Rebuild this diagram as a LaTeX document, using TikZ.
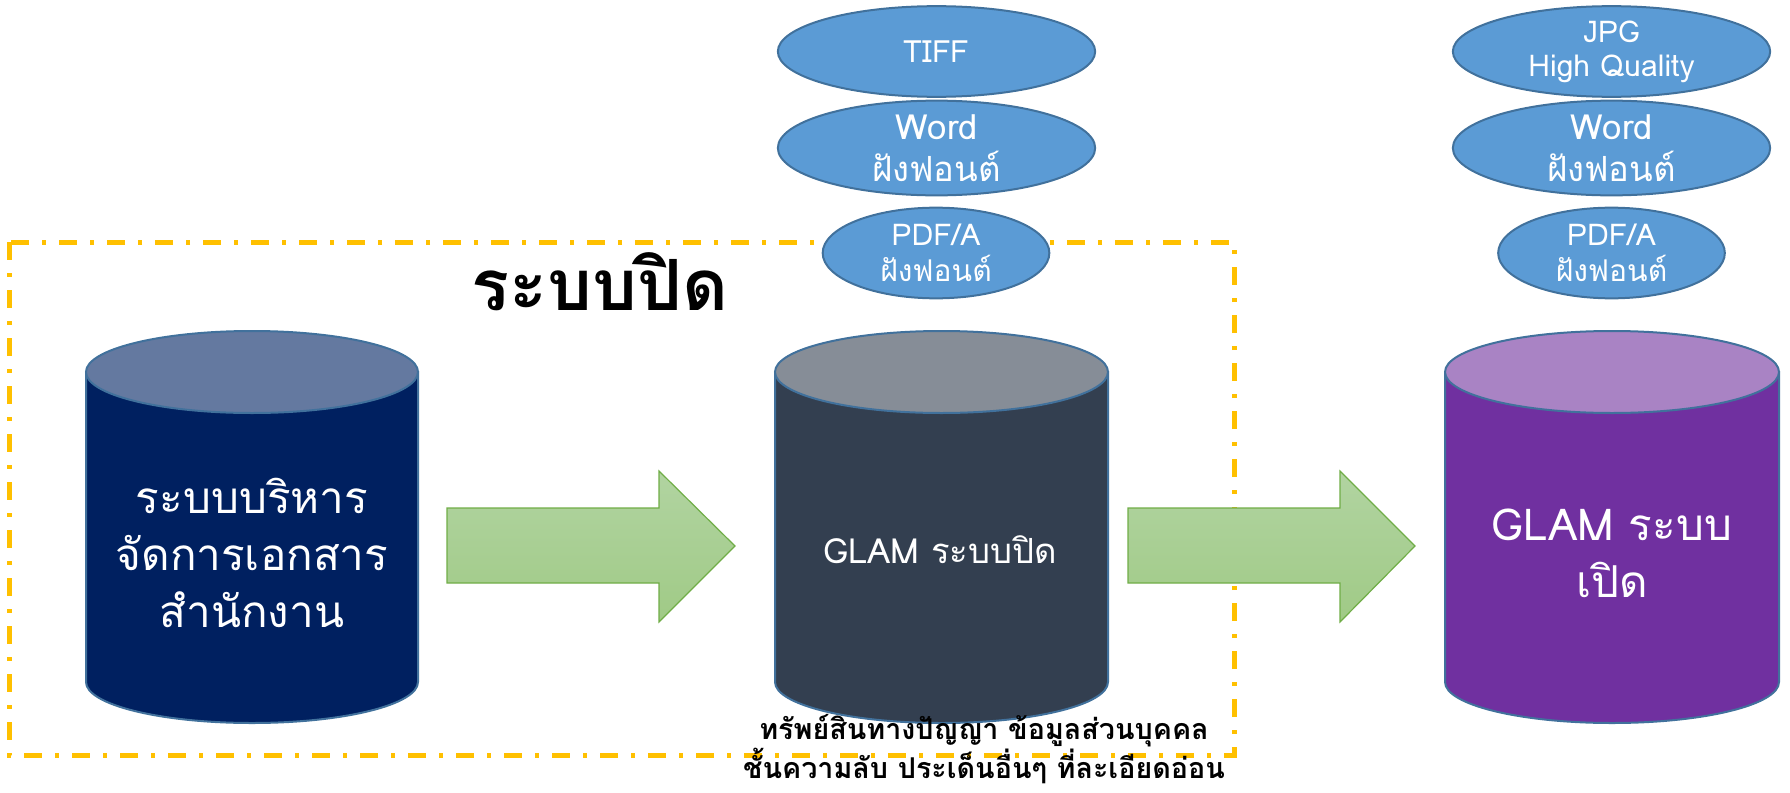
\documentclass[tikz,border=0pt]{standalone}
\usepackage{xcolor}
\usepackage{fontspec}
\setmainfont[Script=Thai]{Loma}
\usepackage{tikz}
\usetikzlibrary{shapes.geometric}

\definecolor{canLine}{HTML}{41719C}
\definecolor{navyBody}{HTML}{002060}
\definecolor{navyTop}{HTML}{6479A0}
\definecolor{slateBody}{HTML}{333F50}
\definecolor{slateTop}{HTML}{868D97}
\definecolor{purpleBody}{HTML}{7030A0}
\definecolor{purpleTop}{HTML}{A983C4}
\definecolor{ovalFill}{HTML}{5B9BD5}
\definecolor{arrowLine}{HTML}{70AD47}
\definecolor{arrowTop}{HTML}{B1D4A1}
\definecolor{arrowBottom}{HTML}{A0CA86}
\definecolor{frameGold}{HTML}{FFC000}

\tikzset{
  oval/.style={ellipse, draw=canLine, line width=1.5pt, fill=ovalFill, text=white, inner sep=0pt, align=center},
  canside/.style={draw=canLine, line width=1.5pt},
  blockarrow/.style={draw=arrowLine, line width=0.9pt, top color=arrowTop, bottom color=arrowBottom},
}

\begin{document}
\begin{tikzpicture}[x=0.75pt,y=0.75pt,yscale=-1,xscale=1]
	\useasboundingbox (0,0) rectangle (1790,792);
	
	%Shape: Rectangle [id:frame] 
	\draw [color=frameGold, line width=3.75pt, dash pattern=on 13.5pt off 9.75pt on 3pt off 9.75pt]  (9,242) rectangle (1234,755) ;
	
	%Right Arrow [id:arrowA] 
	\draw [blockarrow]  (447,508) -- (659,508) -- (659,471) -- (735,546) -- (659,622) -- (659,583) -- (447,583) -- cycle ;
	%Right Arrow [id:arrowB] 
	\draw [blockarrow]  (1128,508) -- (1340,508) -- (1340,471) -- (1415,546) -- (1340,622) -- (1340,583) -- (1128,583) -- cycle ;
	
	%Shape: Can [id:canOffice] 
	\draw [canside, fill=navyBody]  (86,372) -- (86,682) arc [start angle=180, end angle=0, x radius=166, y radius=41] -- (418,372) -- cycle ;
	\draw [canside, fill=navyTop]  (252,372) ellipse [x radius=166, y radius=41] ;
	%Shape: Can [id:canClosed] 
	\draw [canside, fill=slateBody]  (775,372) -- (775,682) arc [start angle=180, end angle=0, x radius=166.5, y radius=41] -- (1108,372) -- cycle ;
	\draw [canside, fill=slateTop]  (941.5,372) ellipse [x radius=166.5, y radius=41] ;
	%Shape: Can [id:canOpen] 
	\draw [canside, fill=purpleBody]  (1445,372) -- (1445,682) arc [start angle=180, end angle=0, x radius=167, y radius=41] -- (1779,372) -- cycle ;
	\draw [canside, fill=purpleTop]  (1612,372) ellipse [x radius=167, y radius=41] ;
	
	%Shape: Ellipse [id:ovalTiff] 
	\node (tiff) [oval, minimum width=238pt, minimum height=68pt, font=\fontsize{23}{28}\selectfont] at (936.5,51.5) {TIFF};
	%Shape: Ellipse [id:ovalWordA] 
	\node (wordA) [oval, minimum width=238pt, minimum height=68pt, font=\fontsize{26}{31.5}\selectfont] at (936.5,148) {Word\\ฝังฟอนต์};
	%Shape: Ellipse [id:ovalPdfA] 
	\node (pdfA) [oval, minimum width=170pt, minimum height=68pt, font=\fontsize{22.5}{27}\selectfont] at (936,253) {PDF/A\\ฝังฟอนต์};
	%Shape: Ellipse [id:ovalJpg] 
	\node (jpg) [oval, minimum width=238pt, minimum height=68pt, font=\fontsize{22.5}{25.5}\selectfont] at (1611.5,51.5) {JPG\\High Quality};
	%Shape: Ellipse [id:ovalWordB] 
	\node (wordB) [oval, minimum width=238pt, minimum height=68pt, font=\fontsize{26}{31.5}\selectfont] at (1611.5,148) {Word\\ฝังฟอนต์};
	%Shape: Ellipse [id:ovalPdfB] 
	\node (pdfB) [oval, minimum width=170pt, minimum height=68pt, font=\fontsize{22.5}{27}\selectfont] at (1611.5,253) {PDF/A\\ฝังฟอนต์};
	
	% Text Node
	\draw (600,282) node (closedTitle) [inner sep=0.75pt, font=\fontsize{53}{60}\selectfont\bfseries]   [align=center] {ระบบปิด};
	% Text Node
	\draw (252,553) node (office) [inner sep=0.75pt, text=white, font=\fontsize{33}{43}\selectfont]   [align=center] {ระบบบริหาร\\จัดการเอกสาร\\สำนักงาน};
	% Text Node
	\draw (940,550) node (glamClosed) [inner sep=0.75pt, text=white, font=\fontsize{26}{32}\selectfont]   [align=center] {GLAM ระบบปิด};
	% Text Node
	\draw (984,749) node (sensitive) [inner sep=0pt, font=\fontsize{21.5}{25.5}\selectfont\bfseries]   [align=center] {ทรัพย์สินทางปัญญา ข้อมูลส่วนบุคคล\\ชั้นความลับ ประเด็นอื่นๆ ที่ละเอียดอ่อน};
	% Text Node
	\draw (1612,553) node (glamOpen) [inner sep=0.75pt, text=white, font=\fontsize{33}{43}\selectfont]   [align=center] {GLAM ระบบ\\เปิด};
	
\end{tikzpicture}
\end{document}
